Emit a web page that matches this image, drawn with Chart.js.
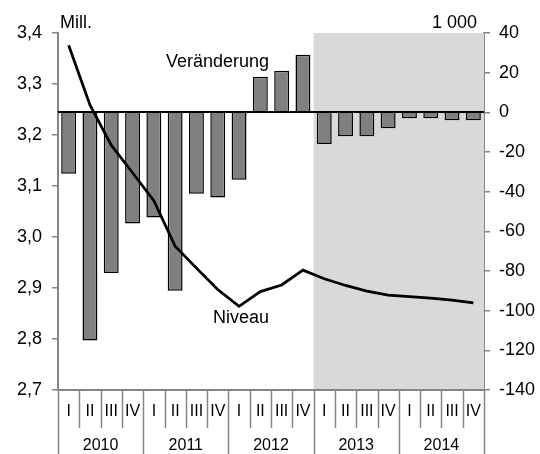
<!DOCTYPE html>
<html>
<head>
<meta charset="utf-8">
<script src="https://cdn.jsdelivr.net/npm/chart.js@4"></script>
<style>
html,body{margin:0;padding:0;background:#fff;}
#wrap{width:540px;height:454px;position:relative;}
</style>
</head>
<body>
<div id="wrap"><canvas id="c" width="540" height="454"></canvas></div>
<script>
const quarters = ["I","II","III","IV","I","II","III","IV","I","II","III","IV","I","II","III","IV","I","II","III","IV"];
const years = ["2010","2011","2012","2013","2014"];
const veraenderung = [-31, -115, -81, -56, -53, -90, -41, -43, -34, 18, 21, 29, -16, -12, -12, -8, -3, -3, -4, -4];
const niveau = [3.376, 3.259, 3.180, 3.126, 3.071, 2.982, 2.939, 2.897, 2.864, 2.893, 2.906, 2.935, 2.918, 2.905, 2.894, 2.886, 2.883, 2.880, 2.876, 2.871];
const leftTicks = [2.7, 2.8, 2.9, 3.0, 3.1, 3.2, 3.3, 3.4];
const rightTicks = [-140, -120, -100, -80, -60, -40, -20, 0, 20, 40];
const shadeFrom = 12; // first quarter of 2013
const labels = quarters.map((q, i) => years[Math.floor(i / 4)] + " " + q);

const FONT = "'Liberation Sans', Arial, sans-serif";
const AXIS = "#868686";

const decor = {
  id: 'decor',
  beforeDatasetsDraw(chart) {
    const {ctx, chartArea: a, scales: {x}} = chart;
    const step = x.getPixelForValue(1) - x.getPixelForValue(0);
    const sx = x.getPixelForValue(shadeFrom) - step / 2;
    ctx.save();
    ctx.fillStyle = '#d9d9d9';
    ctx.fillRect(sx, a.top, a.right - sx, a.bottom - a.top);
    ctx.restore();
  },
  afterDatasetDraw(chart, args) {
    if (args.index !== 0) return;
    const {ctx, chartArea: a, scales: {y1}} = chart;
    const y0 = Math.round(y1.getPixelForValue(0));
    ctx.save();
    ctx.strokeStyle = '#000';
    ctx.lineWidth = 2;
    ctx.beginPath();
    ctx.moveTo(a.left, y0);
    ctx.lineTo(a.right, y0);
    ctx.stroke();
    ctx.restore();
  },
  afterDraw(chart) {
    const {ctx, chartArea: a, scales: {x}} = chart;
    const step = x.getPixelForValue(1) - x.getPixelForValue(0);
    const H = chart.height;
    ctx.save();
    ctx.strokeStyle = AXIS;
    ctx.lineWidth = 2;
    // bottom axis line
    ctx.beginPath();
    ctx.moveTo(a.left - 1, a.bottom);
    ctx.lineTo(a.right + 1, a.bottom);
    ctx.stroke();
    // separators
    ctx.lineWidth = 1.5;
    for (let i = 0; i <= quarters.length; i++) {
      const px = Math.round(x.getPixelForValue(i) - step / 2) + 0.5;
      const isYear = (i % 4 === 0);
      ctx.beginPath();
      ctx.moveTo(px, a.bottom);
      ctx.lineTo(px, isYear ? H : a.bottom + 38);
      ctx.stroke();
    }
    ctx.fillStyle = '#000';
    ctx.font = '16px ' + FONT;
    ctx.textAlign = 'center';
    ctx.textBaseline = 'middle';
    quarters.forEach((q, i) => {
      ctx.fillText(q, x.getPixelForValue(i), a.bottom + 22);
    });
    years.forEach((yv, j) => {
      const cx = (x.getPixelForValue(j * 4) + x.getPixelForValue(j * 4 + 3)) / 2;
      ctx.fillText(yv, cx, a.bottom + 56);
    });
    // annotations
    ctx.font = '18px ' + FONT;
    ctx.textAlign = 'left';
    ctx.fillText('Mill.', 60, 23);
    ctx.fillText('Veränderung', 166, 62);
    ctx.fillText('Niveau', 213, 318);
    ctx.textAlign = 'right';
    ctx.fillText('1 000', 477, 23);
    ctx.restore();
  }
};

new Chart(document.getElementById('c'), {
  data: {
    labels: labels,
    datasets: [
      {
        type: 'bar',
        label: 'Veränderung',
        data: veraenderung,
        yAxisID: 'y1',
        backgroundColor: '#808080',
        borderColor: '#000',
        borderWidth: 1.5,
        barPercentage: 0.7,
        categoryPercentage: 1,
        order: 2
      },
      {
        type: 'line',
        label: 'Niveau',
        data: niveau,
        yAxisID: 'y',
        borderColor: '#000',
        borderWidth: 2.75,
        pointRadius: 0,
        tension: 0,
        fill: false,
        order: 1
      }
    ]
  },
  options: {
    responsive: false,
    animation: false,
    devicePixelRatio: 1,
    layout: {padding: {top: 33, bottom: 64, left: 0, right: 0}},
    plugins: {legend: {display: false}, tooltip: {enabled: false}},
    scales: {
      x: {
        type: 'category',
        display: false,
        offset: true
      },
      y: {
        position: 'left',
        min: 2.7, max: 3.4,
        afterFit(s) { s.width = 58; },
        afterBuildTicks(s) { s.ticks = leftTicks.map(v => ({value: v})); },
        border: {display: true, color: AXIS, width: 2},
        grid: {drawOnChartArea: false, drawTicks: true, tickLength: 6, color: AXIS, lineWidth: 1.5},
        ticks: {
          padding: 10,
          color: '#000',
          font: {family: FONT, size: 18},
          callback: v => Number(v).toFixed(1).replace('.', ',')
        }
      },
      y1: {
        position: 'right',
        min: -140, max: 40,
        afterFit(s) { s.width = 56; },
        afterBuildTicks(s) { s.ticks = rightTicks.map(v => ({value: v})); },
        border: {display: true, color: AXIS, width: 2},
        grid: {drawOnChartArea: false, drawTicks: true, tickLength: 6, color: AXIS, lineWidth: 1.5},
        ticks: {
          padding: 9,
          color: '#000',
          font: {family: FONT, size: 18},
          callback: v => String(v)
        }
      }
    }
  },
  plugins: [decor]
});
</script>
</body>
</html>
